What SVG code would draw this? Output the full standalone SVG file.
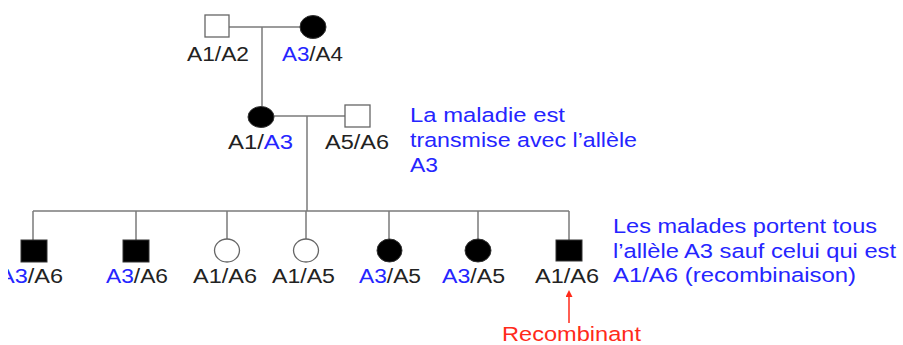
<svg xmlns="http://www.w3.org/2000/svg" width="903" height="345" viewBox="0 0 903 345">
<style>
  .ln { stroke: #7a7a7a; stroke-width: 1.5; fill: none; }
  .open { fill: #ffffff; stroke: #666666; stroke-width: 1.3; }
  .aff { fill: #000000; stroke: #333333; stroke-width: 1; }
  text { font-family: "Liberation Sans", Arial, sans-serif; font-size: 20.5px; fill: #222222; }
  .b { fill: #2525ff; }
  .r { fill: #ff2a1a; }
</style>
<defs>
  <marker id="ah" markerWidth="7" markerHeight="7" refX="3" refY="3.5" orient="auto" markerUnits="userSpaceOnUse">
    <path d="M0,0 L7,3.5 L0,7 Z" fill="#ff2a1a"/>
  </marker>
  <clipPath id="cut"><rect x="8" y="0" width="895" height="345"/></clipPath>
</defs>

<g id="connectors">
  <line class="ln" x1="229" y1="27" x2="300" y2="27"/>
  <line class="ln" x1="262" y1="27" x2="262" y2="106"/>
  <line class="ln" x1="274" y1="116" x2="345" y2="116"/>
  <line class="ln" x1="307" y1="116" x2="307" y2="211"/>
  <line class="ln" x1="33" y1="211" x2="569" y2="211"/>
  <line class="ln" x1="33" y1="211" x2="33" y2="240"/>
  <line class="ln" x1="136" y1="211" x2="136" y2="240"/>
  <line class="ln" x1="227" y1="211" x2="227" y2="239"/>
  <line class="ln" x1="306" y1="211" x2="306" y2="239"/>
  <line class="ln" x1="389" y1="211" x2="389" y2="239"/>
  <line class="ln" x1="478" y1="211" x2="478" y2="239"/>
  <line class="ln" x1="569" y1="211" x2="569" y2="240"/>
</g>

<g id="gen1-father">
  <rect class="open" x="205" y="15" width="24" height="22"/>
  <text x="187" y="61" textLength="62" lengthAdjust="spacingAndGlyphs">A1/A2</text>
</g>
<g id="gen1-mother">
  <ellipse class="aff" cx="313" cy="27" rx="13" ry="11.5"/>
  <text x="282" y="61" textLength="61" lengthAdjust="spacingAndGlyphs"><tspan class="b">A3</tspan>/A4</text>
</g>

<g id="gen2-mother">
  <ellipse class="aff" cx="261" cy="117" rx="13" ry="10.5"/>
  <text x="228" y="149" textLength="65" lengthAdjust="spacingAndGlyphs">A1/<tspan class="b">A3</tspan></text>
</g>
<g id="gen2-father">
  <rect class="open" x="345" y="105" width="25" height="22"/>
  <text x="325" y="149" textLength="64" lengthAdjust="spacingAndGlyphs">A5/A6</text>
</g>

<g id="note1">
  <text class="b" x="410" y="122" textLength="155" lengthAdjust="spacingAndGlyphs">La maladie est</text>
  <text class="b" x="410" y="147" textLength="227" lengthAdjust="spacingAndGlyphs">transmise avec l’allèle</text>
  <text class="b" x="410" y="172" textLength="28" lengthAdjust="spacingAndGlyphs">A3</text>
</g>

<g id="child1">
  <rect class="aff" x="21" y="240" width="26" height="22"/>
  <text x="-1" y="283" textLength="64" lengthAdjust="spacingAndGlyphs" clip-path="url(#cut)"><tspan class="b">A3</tspan>/A6</text>
</g>
<g id="child2">
  <rect class="aff" x="123" y="240" width="26" height="22"/>
  <text x="106" y="283" textLength="62" lengthAdjust="spacingAndGlyphs"><tspan class="b">A3</tspan>/A6</text>
</g>
<g id="child3">
  <ellipse class="open" cx="227" cy="250.5" rx="12.5" ry="11.5"/>
  <text x="193" y="283" textLength="64" lengthAdjust="spacingAndGlyphs">A1/A6</text>
</g>
<g id="child4">
  <ellipse class="open" cx="306" cy="250.5" rx="12.5" ry="11.5"/>
  <text x="272" y="283" textLength="63" lengthAdjust="spacingAndGlyphs">A1/A5</text>
</g>
<g id="child5">
  <ellipse class="aff" cx="389.5" cy="250.5" rx="12.5" ry="11.5"/>
  <text x="359" y="283" textLength="62" lengthAdjust="spacingAndGlyphs"><tspan class="b">A3</tspan>/A5</text>
</g>
<g id="child6">
  <ellipse class="aff" cx="478" cy="250.5" rx="13" ry="11.5"/>
  <text x="442" y="283" textLength="63" lengthAdjust="spacingAndGlyphs"><tspan class="b">A3</tspan>/A5</text>
</g>
<g id="child7">
  <rect class="aff" x="556" y="240" width="26" height="21"/>
  <text x="535" y="283" textLength="64" lengthAdjust="spacingAndGlyphs">A1/A6</text>
</g>

<g id="note2">
  <text class="b" x="613" y="233" textLength="264" lengthAdjust="spacingAndGlyphs">Les malades portent tous</text>
  <text class="b" x="613" y="257.5" textLength="283" lengthAdjust="spacingAndGlyphs">l’allèle A3 sauf celui qui est</text>
  <text class="b" x="613" y="282" textLength="243" lengthAdjust="spacingAndGlyphs">A1/A6 (recombinaison)</text>
</g>

<g id="recombinant">
  <line x1="569" y1="323" x2="569" y2="294" stroke="#ff2a1a" stroke-width="1.5" marker-end="url(#ah)"/>
  <text class="r" x="502" y="341" textLength="139" lengthAdjust="spacingAndGlyphs">Recombinant</text>
</g>
</svg>
